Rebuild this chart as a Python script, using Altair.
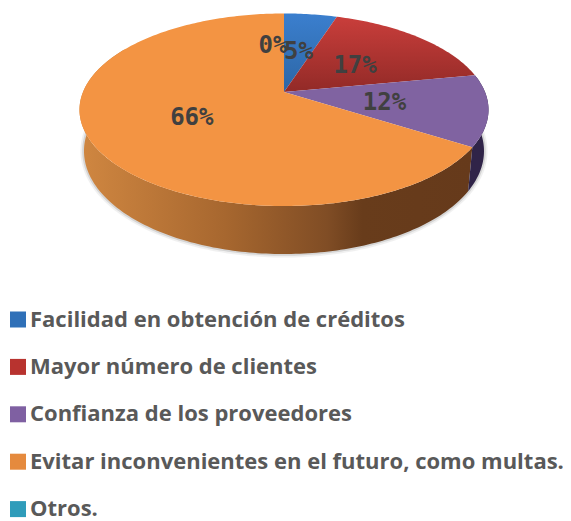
import math
import altair as alt

categories = ["Facilidad en obtención de créditos", "Mayor número de clientes",
              "Confianza de los proveedores", "Evitar inconvenientes en el futuro, como multas.", "Otros."]
shares = [5, 17, 12, 66, 0]
value_labels = ["5%", "17%", "12%", "66%", "0%"]
legend_colors = ["#2f70b8", "#b8332f", "#7f60a2", "#e58a3e", "#2f9cba"]

W, H = 555, 513
OX, OY = 8, 8  # page margin


def top(theta_deg, f=1.0):
    t = math.radians(theta_deg)
    u, v = f * math.sin(t), -f * math.cos(t)
    w = 1 - 0.1844 * v
    return (284 + 201 * u / w - OX, 92 + 93 * v / w - OY)


def bottom(theta_deg):
    x, y = top(theta_deg)
    return (283.5 - OX + (x - 283.5 + OX) * 200 / 204.5,
            151 - OY + (y - 109.75 + OY) * 103 / 96.25)


def feature(ring):
    ring = [list(p) for p in ring]
    ring.append(ring[0])
    return {"type": "Feature", "properties": {}, "geometry": {"type": "Polygon", "coordinates": [ring]}}


def arc(a, b):
    n = max(2, int(abs(b - a)) + 1)
    return [a + (b - a) * i / n for i in range(n + 1)]


bounds = [0]
for s in shares:
    bounds.append(bounds[-1] + s * 3.6)


def shape(feat, **kw):
    return alt.Chart(alt.Data(values=[feat])).mark_geoshape(**kw).project(type="identity", scale=1, translate=[0, 0])


def grad(stops, horizontal=False):
    return alt.Gradient(gradient="linear", x1=0, y1=0, x2=1 if horizontal else 0, y2=0 if horizontal else 1,
                        stops=[alt.GradientStop(color=c, offset=o) for o, c in stops])


outline = feature([bottom(t) for t in arc(0, 360)])
layers = [
    shape(outline, fill="transparent", stroke="#777777", strokeWidth=7, opacity=0.10),
    shape(outline, fill="transparent", stroke="#777777", strokeWidth=3.5, opacity=0.22),
]

# side walls
wall_orange = arc(bounds[3], 300)
layers.append(shape(feature([top(t) for t in wall_orange] + [bottom(t) for t in reversed(wall_orange)]),
                    fill=grad([(0, "#d08741"), (0.37, "#a7672f"), (0.63, "#804d25"), (0.72, "#683c1b"), (1, "#663a1b")], True),
                    stroke="transparent"))
wall_purple = arc(bounds[2], bounds[3])
layers.append(shape(feature([top(t) for t in wall_purple] + [bottom(t) for t in reversed(wall_purple)]),
                    fill="#302448", stroke="transparent"))

# top face
top_fills = [
    grad([(0, "#3b7fce"), (1, "#2c66a5")]),
    grad([(0, "#c93e3b"), (1, "#922a27")]),
    "#8063a1",
    "#f39443",
]
for i, fill in enumerate(top_fills):
    ring = [top(0, 0)] + [top(t) for t in arc(bounds[i], bounds[i + 1])]
    layers.append(shape(feature(ring), fill=fill, stroke="transparent"))

# value labels
x_enc = alt.X("px:Q", scale=alt.Scale(domain=[0, W], range=[0, W]), axis=None)
y_enc = alt.Y("py:Q", scale=alt.Scale(domain=[0, H], range=[0, H]), axis=None)
rows = []
for i, lab in enumerate(value_labels):
    px, py = top((bounds[i] + bounds[i + 1]) / 2, 0.5)
    rows.append({"px": px, "py": py, "label": lab, "zero": shares[i] == 0})
text_style = dict(font="DejaVu Sans Mono", fontSize=24, fontWeight="bold", color="#404040",
                  align="center", baseline="middle")
layers.append(alt.Chart(alt.Data(values=[r for r in rows if not r["zero"]])).mark_text(dy=2.5, **text_style)
              .encode(x=x_enc, y=y_enc, text="label:N"))
layers.append(alt.Chart(alt.Data(values=[r for r in rows if r["zero"]])).mark_text(dx=-11, dy=-3, **text_style)
              .encode(x=x_enc, y=y_enc, text="label:N"))

# legend
legend = alt.Legend(orient="none", legendX=-1, legendY=300.5, title=None, symbolType="square", symbolSize=256,
                    symbolStrokeWidth=0, symbolOpacity=1, labelFont="Open Sans", labelFontSize=22, labelFontWeight="bold",
                    labelColor="#595959", labelLimit=700, labelOffset=1, rowPadding=25.4, padding=0)
layers.append(alt.Chart(alt.Data(values=[{"c": c} for c in categories])).mark_square(size=0, filled=True)
              .encode(x=alt.value(-50), y=alt.value(-50),
                      color=alt.Color("c:N", sort=categories,
                                      scale=alt.Scale(domain=categories, range=legend_colors), legend=legend)))

chart = alt.layer(*layers).properties(width=W, height=H, padding=0, background="white",
                                      autosize=alt.AutoSizeParams(type="none")).configure_view(strokeWidth=0)
chart.save("out.html", embed_options={"renderer": "svg", "actions": False})
